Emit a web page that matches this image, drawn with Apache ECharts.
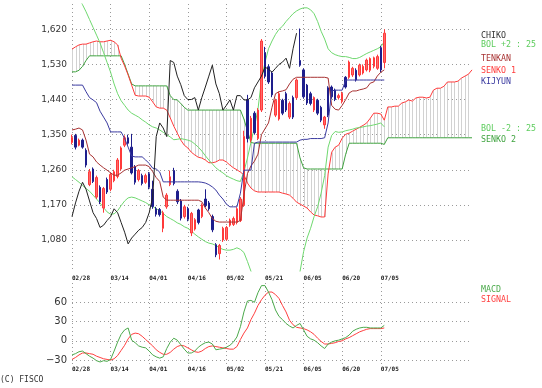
<!DOCTYPE html>
<html><head><meta charset="utf-8">
<script src="https://cdn.jsdelivr.net/npm/echarts@6/dist/echarts.min.js"></script>
<style>html,body{margin:0;padding:0;background:#fff}#c{width:542px;height:388px}</style>
</head><body><div id="c"></div>
<script>
// ---- data ----
const tickLabels = ['02/28','03/14','04/01','04/16','05/02','05/21','06/05','06/20','07/05'];
const tickStep = 11;
const nCats = 115;
const opens  = [1330,1348,1323,1336,1310,1222,1262,1190,1215,1162,1235,1210,1232,1243,1262,1323,1342,1318,1268,1235,1245,1228,1250,1210,1160,1158,1110,1165,1222,1258,1205,1180,1140,1160,1098,1108,1157,1140,1185,1175,1140,1068,1045,1080,1082,1118,1120,1125,1130,1170,1440,1336,1405,1340,1413,1560,1524,1508,1400,1390,1438,1455,1395,1445,1445,1540,1516,1477,1455,1413,1438,1420,1375,1470,1472,1464,1445,1435,1497,1497,1503,1515,1503,1508,1516,1515,1525,1520,1573,1535];
const closes = [1343,1318,1336,1318,1272,1255,1230,1240,1178,1212,1203,1248,1255,1285,1316,1342,1328,1252,1228,1258,1225,1245,1215,1166,1146,1145,1150,1195,1242,1225,1178,1136,1165,1133,1148,1132,1125,1170,1168,1160,1106,1042,1066,1110,1112,1131,1135,1160,1185,1345,1340,1392,1355,1413,1590,1500,1485,1452,1438,1455,1405,1413,1430,1395,1490,1528,1447,1431,1430,1445,1405,1387,1395,1400,1447,1440,1450,1456,1472,1536,1520,1490,1528,1525,1541,1545,1547,1550,1516,1610];
const lows   = [1325,1312,1320,1314,1266,1218,1226,1185,1172,1150,1198,1205,1228,1238,1258,1318,1324,1248,1222,1230,1220,1224,1210,1160,1140,1140,1100,1160,1218,1220,1172,1130,1135,1128,1090,1104,1120,1136,1164,1155,1100,1036,1030,1075,1078,1114,1116,1120,1126,1165,1330,1330,1350,1336,1408,1494,1480,1446,1395,1386,1400,1408,1390,1390,1440,1524,1442,1426,1425,1408,1400,1382,1365,1395,1442,1436,1440,1430,1468,1493,1498,1486,1499,1504,1512,1510,1520,1516,1510,1520];
const highs  = [1350,1352,1340,1340,1315,1262,1266,1245,1220,1216,1240,1252,1260,1290,1320,1348,1350,1352,1272,1262,1250,1250,1254,1232,1165,1162,1155,1200,1258,1265,1210,1185,1170,1165,1152,1136,1160,1174,1210,1180,1145,1072,1070,1114,1116,1135,1140,1164,1190,1360,1452,1398,1410,1418,1595,1575,1530,1512,1442,1460,1442,1460,1435,1450,1494,1622,1520,1480,1460,1448,1442,1424,1398,1474,1476,1468,1455,1460,1500,1540,1524,1520,1532,1530,1545,1548,1550,1555,1578,1620];
const tenkan = [1362,1364,1367,1362,1336,1300,1293,1280,1272,1265,1259,1252,1246,1246,1252,1259,1262,1265,1268,1272,1272,1272,1268,1255,1240,1230,1190,1182,1182,1182,1182,1182,1182,1182,1182,1182,1182,1178,1162,1150,1135,1128,1126,1126,1126,1126,1126,1126,1130,1195,1250,1270,1282,1300,1350,1365,1380,1420,1455,1460,1462,1465,1480,1492,1497,1497,1497,1497,1497,1497,1497,1497,1497,1495,1425,1415,1413,1425,1440,1457,1462,1462,1465,1467,1470,1482,1485,1500,1510,1516];
const kijun  = [1477,1477,1477,1477,1460,1445,1439,1432,1410,1395,1380,1357,1357,1357,1357,1340,1318,1295,1293,1293,1293,1285,1276,1264,1262,1254,1229,1229,1229,1229,1229,1229,1229,1229,1229,1229,1229,1228,1226,1222,1216,1208,1195,1185,1172,1165,1165,1165,1200,1259,1259,1259,1328,1331,1331,1331,1331,1331,1331,1331,1331,1331,1331,1331,1331,1336,1338,1338,1340,1340,1340,1340,1342,1380,1462,1464,1464,1464,1490,1490,1490,1490,1490,1490,1490,1490,1490,1490,1490,1490];
const senko1 = [1569,1575,1580,1582,1582,1585,1588,1590,1588,1588,1590,1592,1588,1580,1546,1526,1503,1477,1451,1449,1449,1449,1446,1434,1421,1418,1418,1413,1393,1372,1354,1336,1323,1316,1305,1298,1292,1290,1285,1278,1278,1280,1285,1285,1280,1272,1265,1260,1254,1247,1226,1213,1206,1203,1203,1203,1203,1203,1203,1203,1200,1198,1195,1187,1177,1172,1167,1162,1152,1144,1142,1139,1139,1250,1305,1318,1323,1341,1351,1354,1359,1364,1369,1374,1380,1392,1405,1405,1403,1387,1421,1421,1423,1423,1431,1434,1439,1436,1444,1446,1446,1444,1446,1464,1469,1469,1474,1485,1485,1485,1487,1495,1500,1505,1516];
const senko2 = [1511,1511,1515,1525,1540,1552,1552,1552,1552,1552,1552,1552,1552,1552,1552,1530,1505,1480,1475,1475,1475,1475,1475,1475,1475,1475,1475,1475,1450,1440,1439,1430,1420,1413,1413,1413,1413,1413,1413,1413,1413,1413,1413,1413,1413,1413,1413,1413,1413,1390,1360,1330,1328,1328,1328,1328,1328,1328,1328,1328,1328,1328,1328,1328,1328,1290,1265,1262,1262,1262,1262,1262,1262,1262,1262,1262,1262,1262,1300,1328,1328,1328,1328,1328,1328,1328,1328,1328,1328,1325,1342,1342,1342,1342,1342,1342,1342,1342,1342,1342,1342,1342,1342,1342,1342,1342,1342,1342,1342,1342,1342,1342,1342,1342,1342];
const chiko  = [1140,1175,1205,1228,1210,1180,1150,1135,1112,1118,1130,1140,1160,1150,1125,1100,1070,1085,1095,1105,1112,1125,1150,1190,1345,1380,1367,1345,1540,1535,1500,1478,1450,1440,1440,1445,1413,1445,1472,1500,1528,1480,1455,1413,1425,1439,1413,1450,1450,1439,1439,1445,1470,1485,1500,1523,1518,1510,1520,1530,1536,1546,1520,1570,1610];
const bolUp  = [1740,1722,1700,1683,1665,1645,1625,1605,1585,1560,1535,1510,1480,1455,1437,1425,1413,1405,1400,1395,1388,1382,1375,1370,1367,1362,1356,1350,1344,1337,1338,1340,1338,1336,1333,1326,1318,1308,1296,1285,1275,1265,1258,1252,1245,1240,1236,1232,1230,1255,1290,1330,1370,1415,1490,1535,1570,1590,1607,1620,1628,1640,1650,1660,1667,1672,1675,1675,1670,1660,1640,1615,1595,1570,1560,1555,1552,1550,1550,1548,1545,1545,1548,1553,1558,1562,1566,1570,1575,1588];
const bolDn  = [1242,1235,1228,1220,1212,1205,1195,1185,1175,1163,1152,1146,1147,1155,1168,1180,1188,1190,1188,1184,1180,1176,1170,1166,1160,1155,1148,1140,1135,1130,1124,1120,1114,1110,1103,1095,1088,1082,1076,1072,1070,1066,1060,1056,1054,1054,1056,1060,1056,1048,1025,1000,980,965,950,940,930,922,915,910,908,908,912,920,945,1000,1050,1085,1110,1140,1165,1200,1245,1318,1348,1358,1356,1357,1360,1362,1364,1367,1368,1370,1372,1373,1375,1377,1380,1370];
const macd   = [-22,-20,-17,-16,-20,-24,-27,-31,-33,-31,-32,-29,-16,-2,10,17,20,1,-3,-8,-10,-11,-16,-22,-25,-27,-25,-12,-2,4,1,-6,-13,-19,-19,-16,-10,-6,-3,-2,-5,-14,-13,-12,-10,-7,-2,6,22,45,62,63,60,75,86,86,76,64,48,38,33,27,23,20,24,27,17,7,3,1,-3,-8,-12,-5,-2,0,1,3,5,9,15,18,20,21,21,20,20,20,20,24];
const signal = [-29,-26,-22,-19,-19,-20,-21,-24,-26,-28,-29,-30,-28,-23,-15,-7,3,10,12,11,7,2,-3,-8,-14,-18,-21,-21,-18,-13,-9,-7,-8,-11,-14,-17,-18,-16,-12,-9,-8,-9,-10,-11,-12,-13,-13,-9,2,12,20,33,43,55,64,71,76,76,72,66,55,45,32,25,21,20,19,17,14,10,4,-1,-5,-5,-4,-3,-1,0,3,5,8,11,14,16,18,19,19,19,19,20];

// ---- build ----
const cats = Array.from({length: nCats}, (_, i) => String(i));
const candles = opens.map((o, i) => [o, closes[i], lows[i], highs[i]]);
const cloud = senko1.map((v, i) => [i, v, senko2[i]]);
const isTick = (idx) => idx % tickStep === 0 && idx / tickStep < tickLabels.length;
const dot = {color: '#9a9a9a', type: [1, 3], width: 1};
const L = 72, W = 400;
// main price panel mapping: 1620 @ y=29.3, 1080 @ y=240
const k = (240 - 29.3) / 540;
const mTop = 4, mBot = 271;
const mMax = 1620 + (29.3 - mTop) / k, mMin = 1620 - (mBot - 29.3) / k;
// macd mapping: 60 @ 302.3, 0 @ 340.8
const k2 = (340.8 - 302.3) / 60;
const dTop = 283, dBot = 365;
const dMax = (340.8 - dTop) / k2, dMin = -(dBot - 340.8) / k2;

const xLab = (margin) => ({
  show: true, interval: (idx) => isTick(idx), align: 'left', margin: margin,
  formatter: (v, idx) => tickLabels[Math.round(Number(v) / tickStep)],
  fontFamily: 'DejaVu Sans Mono', fontSize: 6, fontWeight: 'bold', color: '#222'
});
const catAxis = (gi, withLabels, margin) => ({
  gridIndex: gi, type: 'category', data: cats, boundaryGap: false,
  axisLine: {show: false}, axisTick: {show: false},
  axisLabel: withLabels ? xLab(margin) : {show: false},
  splitLine: withLabels ? {show: true, interval: (idx) => isTick(idx), lineStyle: dot} : {show: false}
});
const line = (name, data, color, z, xi, yi) => ({
  name, type: 'line', data, xAxisIndex: xi, yAxisIndex: yi, symbol: 'none', showSymbol: false,
  lineStyle: {color, width: 1}, itemStyle: {color}, z, animation: false, silent: true, clip: true
});

const chart = echarts.init(document.getElementById('c'), null, {renderer: 'canvas'});
const legendItem = (txt, y, color) => ({
  type: 'text', x: 481, y: y,
  style: {text: txt, fill: color, font: '8.3px "DejaVu Sans Mono"', verticalAlign: 'middle', textVerticalAlign: 'middle'}
});
chart.setOption({
  animation: false,
  backgroundColor: '#fff',
  grid: [
    {left: L, width: W, top: mTop, height: mBot - mTop},
    {left: L, width: W, top: 29.3, height: 240 - 29.3},
    {left: L, width: W, top: dTop, height: dBot - dTop},
    {left: L, width: W, top: 302.3, height: 360.05 - 302.3}
  ],
  xAxis: [catAxis(0, true, 4.5), catAxis(1, false), catAxis(2, true, 1), catAxis(3, false)],
  yAxis: [
    {gridIndex: 0, type: 'value', min: mMin, max: mMax, show: false, splitLine: {show: false}},
    {gridIndex: 1, type: 'value', min: 1080, max: 1620, interval: 90,
      axisLine: {show: false}, axisTick: {show: false},
      axisLabel: {margin: 5, fontFamily: 'DejaVu Sans', fontSize: 9, color: '#333',
        formatter: (v) => v.toLocaleString('en-US')},
      splitLine: {show: true, lineStyle: dot}},
    {gridIndex: 2, type: 'value', min: dMin, max: dMax, show: false, splitLine: {show: false}},
    {gridIndex: 3, type: 'value', min: -30, max: 60, interval: 30,
      axisLine: {show: false}, axisTick: {show: false},
      axisLabel: {margin: 5, fontFamily: 'DejaVu Sans', fontSize: 10, color: '#333',
        formatter: (v) => String(v).replace('-', '\u2212')},
      splitLine: {show: true, lineStyle: dot}}
  ],
  series: [
    {type: 'custom', xAxisIndex: 0, yAxisIndex: 0, data: cloud, z: 1, silent: true, clip: true,
      encode: {x: 0, y: [1, 2]},
      renderItem: (params, api) => {
        const p1 = api.coord([api.value(0), api.value(1)]);
        const p2 = api.coord([api.value(0), api.value(2)]);
        const x = Math.round(p1[0]) + 0.5;
        return {type: 'line', shape: {x1: x, y1: p1[1], x2: x, y2: p2[1]},
          style: {stroke: '#d2d2d2', lineWidth: 1}};
      }},
    line('SENKO 2', senko2, '#3fa33f', 2, 0, 0),
    line('SENKO 1', senko1, '#ff3b3b', 2, 0, 0),
    line('BOL +2', bolUp, '#6fd86f', 2, 0, 0),
    line('BOL -2', bolDn, '#6fd86f', 2, 0, 0),
    {type: 'candlestick', xAxisIndex: 0, yAxisIndex: 0, data: candles, barWidth: 2, z: 3,
      silent: true, clip: true,
      itemStyle: {color: '#ff6a6a', borderColor: '#ff3a3a', color0: '#1e1e8c', borderColor0: '#1e1e8c', borderWidth: 1}},
    line('TENKAN', tenkan, '#a83232', 4, 0, 0),
    line('KIJYUN', kijun, '#3a3aa0', 4, 0, 0),
    line('CHIKO', chiko, '#222222', 4, 0, 0),
    line('SIGNAL', signal, '#ff4040', 3, 2, 2),
    line('MACD', macd, '#4caa4c', 4, 2, 2)
  ],
  graphic: [
    legendItem('CHIKO', 35.5, '#333333'),
    legendItem('BOL +2 : 25', 44.5, '#5ccc5c'),
    legendItem('TENKAN', 59, '#a83232'),
    legendItem('SENKO 1', 70.5, '#ff3b3b'),
    legendItem('KIJYUN', 82, '#3a3aa0'),
    legendItem('BOL -2 : 25', 129, '#5ccc5c'),
    legendItem('SENKO 2', 140, '#3fa33f'),
    legendItem('MACD', 290, '#4caa4c'),
    legendItem('SIGNAL', 300, '#ff4040'),
    {type: 'text', x: 0, y: 380, style: {text: '(C) FISCO', fill: '#333', font: '8px "DejaVu Sans Mono"', verticalAlign: 'middle', textVerticalAlign: 'middle'}}
  ]
});
</script></body></html>
